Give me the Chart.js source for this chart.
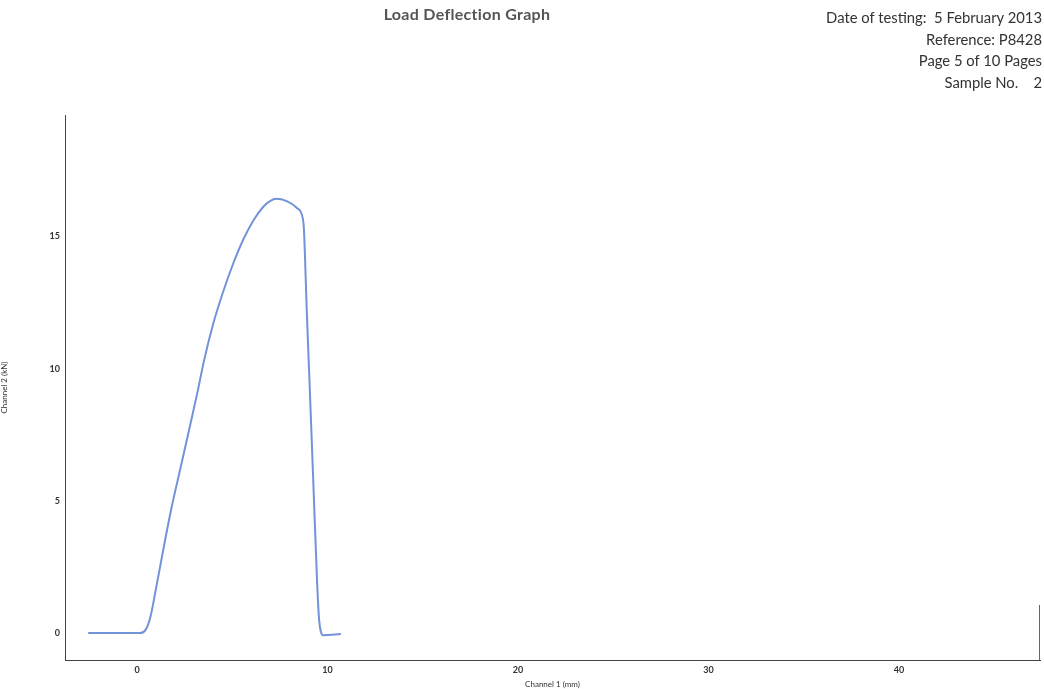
<!DOCTYPE html>
<html>
<head>
<meta charset="utf-8">
<script src="https://cdn.jsdelivr.net/npm/chart.js@4.4.1/dist/chart.umd.min.js"></script>
<style>
    html, body { margin: 0; padding: 0; background: #fff; }
    #wrap { position: relative; width: 1044px; height: 689px; overflow: hidden; }
    #loadChart { position: absolute; left: 0; top: 0; }
    .hdr { position: absolute; font-family: Lato, "Open Sans", sans-serif; color: #333; }
    #title { left: 0; width: 934px; top: 4px; text-align: center; font-size: 16px; letter-spacing: 0.3px; font-weight: bold; color: #555; }
    #info { right: 2px; top: 7px; text-align: right; font-size: 14.8px; line-height: 21.5px; }
</style>
</head>
<body>
<div id="wrap">
    <canvas id="loadChart" width="1044" height="689"></canvas>
    <div class="hdr" id="title">Load Deflection Graph</div>
    <div class="hdr" id="info">
        Date of testing:&nbsp; 5 February 2013<br>
        Reference: P8428<br>
        Page 5 of 10 Pages<br>
        Sample No.&nbsp;&nbsp;&nbsp; 2
    </div>
</div>
<script>
// Deflection (Channel 1, mm) and load (Channel 2, kN)
const deflection = [-2.56, 0.16, 0.45, 0.7, 0.95, 1.3, 1.8, 2.3, 2.8, 3.2, 3.5, 4.0, 4.53, 5.06, 5.58, 6.1, 6.63, 7.0, 7.3, 7.86, 8.38, 8.7, 8.76, 8.82, 8.9, 9.05, 9.24, 9.46, 9.56, 9.65, 9.78, 10.7];
const load = [0, 0, 0.12, 0.6, 1.5, 2.85, 4.7, 6.3, 7.9, 9.2, 10.25, 11.7, 12.93, 14.0, 14.89, 15.6, 16.13, 16.35, 16.43, 16.34, 16.09, 15.7, 15.3, 14.2, 12.4, 9.6, 6.0, 1.8, 0.5, 0.05, -0.08, -0.04];

// Tick labels shown on each axis
const xTicks = [0, 10, 20, 30, 40];
const yTicks = [0, 5, 10, 15];

const points = deflection.map((x, i) => ({ x: x, y: load[i] }));

const tickFont = { family: 'Lato, "Open Sans", sans-serif', size: 9, weight: 'bold' };
const titleFont = { family: 'Lato, "Open Sans", sans-serif', size: 8 };

// Short right-hand frame stub seen at the bottom right of the plot
const rightStub = {
    id: 'rightStub',
    afterDraw(chart) {
        const { ctx, chartArea } = chart;
        ctx.save();
        ctx.strokeStyle = '#666';
        ctx.lineWidth = 1;
        ctx.beginPath();
        ctx.moveTo(chartArea.right - 0.5, chartArea.bottom - 55);
        ctx.lineTo(chartArea.right - 0.5, chartArea.bottom);
        ctx.stroke();
        ctx.restore();
    }
};

const ctx = document.getElementById('loadChart').getContext('2d');
new Chart(ctx, {
    type: 'scatter',
    data: {
        datasets: [{
            label: 'Load',
            data: points,
            showLine: true,
            borderColor: '#7393d8',
            borderWidth: 2,
            pointRadius: 0,
            cubicInterpolationMode: 'monotone',
            fill: false
        }]
    },
    options: {
        responsive: false,
        animation: false,
        layout: { padding: { top: 115, right: 4, left: 0, bottom: 0 } },
        plugins: {
            legend: { display: false },
            tooltip: { enabled: false }
        },
        scales: {
            x: {
                type: 'linear',
                min: -3.78,
                max: 47.4,
                afterBuildTicks: (scale) => { scale.ticks = xTicks.map(v => ({ value: v })); },
                afterFit: (scale) => { scale.height = 29; },
                grid: { display: false, drawTicks: true, tickLength: 3, color: '#333' },
                border: { display: true, color: '#444', width: 1 },
                ticks: { font: tickFont, color: '#333', padding: 2, maxRotation: 0 },
                title: { display: true, text: 'Channel 1 (mm)', font: titleFont, color: '#333', padding: { top: 0, bottom: 0 } }
            },
            y: {
                type: 'linear',
                min: -1.02,
                max: 19.6,
                afterBuildTicks: (scale) => { scale.ticks = yTicks.map(v => ({ value: v })); },
                afterFit: (scale) => { scale.width = 65; },
                grid: { display: false, drawTicks: true, tickLength: 3, color: '#333' },
                border: { display: true, color: '#444', width: 1 },
                ticks: { font: tickFont, color: '#333', padding: 2 },
                title: { display: true, text: 'Channel 2 (kN)', font: titleFont, color: '#333', padding: { top: 0, bottom: 6 } }
            }
        }
    },
    plugins: [rightStub]
});
</script>
</body>
</html>
